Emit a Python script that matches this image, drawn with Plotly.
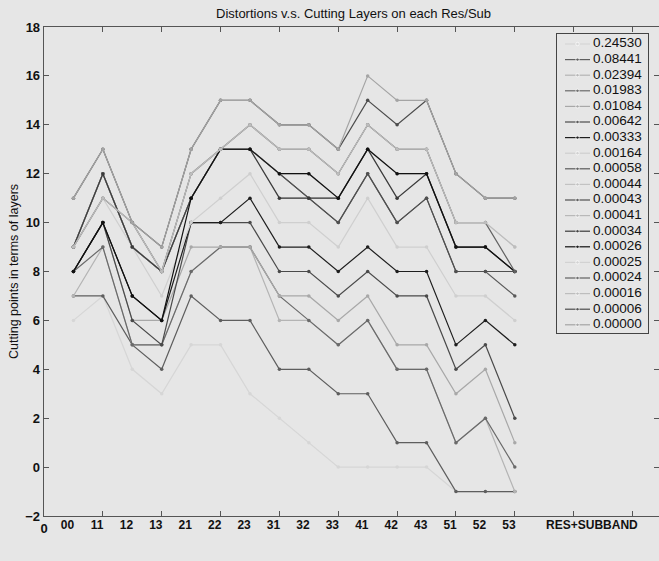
import plotly.graph_objects as go

# ---------------- data ----------------
SUBBANDS = ['00', '11', '12', '13', '21', '22', '23', '31', '32', '33',
            '41', '42', '43', '51', '52', '53']
LEVELS = ['0.24530', '0.08441', '0.02394', '0.01983', '0.01084', '0.00642',
          '0.00333', '0.00164', '0.00058', '0.00044', '0.00043', '0.00041',
          '0.00034', '0.00026', '0.00025', '0.00024', '0.00016', '0.00006',
          '0.00000']
Y_TICKS = [-2, 0, 2, 4, 6, 8, 10, 12, 14, 16, 18]
X_AXIS_LABEL = 'RES+SUBBAND'

d_24530 = [6, 7, 4, 3, 5, 5, 3, 2, 1, 0, 0, 0, 0, -1, -1, -1]
d_08441 = [7, 7, 5, 4, 7, 6, 6, 4, 4, 3, 3, 1, 1, -1, -1, -1]
d_02394 = [7, 9, 5, 5, 8, 9, 9, 6, 6, 5, 6, 4, 4, 1, 2, -1]
d_01983 = [8, 9, 5, 5, 8, 9, 9, 7, 6, 5, 6, 4, 4, 1, 2, 0]
d_01084 = [8, 10, 6, 6, 9, 9, 9, 7, 7, 6, 7, 5, 5, 3, 4, 1]
d_00642 = [8, 10, 6, 5, 10, 10, 10, 8, 8, 7, 8, 7, 7, 4, 5, 2]
d_00333 = [8, 10, 7, 6, 10, 10, 11, 9, 9, 8, 9, 8, 8, 5, 6, 5]
d_00164 = [9, 11, 9, 7, 10, 11, 12, 10, 10, 9, 11, 9, 9, 7, 7, 6]
d_00058 = [9, 12, 9, 8, 11, 13, 13, 12, 11, 10, 12, 10, 11, 8, 8, 7]
d_00044 = [9, 12, 9, 8, 11, 13, 13, 11, 11, 11, 13, 11, 12, 9, 9, 8]
d_00043 = [9, 12, 9, 8, 11, 13, 13, 12, 11, 10, 12, 10, 11, 8, 8, 8]
d_00041 = [9, 12, 9, 8, 11, 13, 13, 12, 12, 11, 13, 12, 12, 9, 9, 8]
d_00034 = [9, 12, 9, 8, 11, 13, 13, 11, 11, 11, 13, 11, 12, 9, 9, 8]
d_00026 = [8, 10, 7, 6, 11, 13, 13, 12, 12, 11, 13, 12, 12, 9, 9, 8]
d_00025 = [9, 11, 10, 8, 12, 13, 14, 13, 13, 12, 14, 13, 13, 10, 10, 9]
d_00024 = [9, 11, 10, 8, 12, 13, 14, 13, 13, 12, 14, 13, 13, 10, 10, 8]
d_00016 = [9, 11, 10, 8, 12, 13, 14, 13, 13, 12, 14, 13, 13, 10, 10, 9]
d_00006 = [11, 13, 10, 9, 13, 15, 15, 14, 14, 13, 15, 14, 15, 12, 11, 11]
d_00000 = [11, 13, 10, 9, 13, 15, 15, 14, 14, 13, 16, 15, 15, 12, 11, 11]

SERIES = [d_24530, d_08441, d_02394, d_01983, d_01084, d_00642, d_00333,
          d_00164, d_00058, d_00044, d_00043, d_00041, d_00034, d_00026,
          d_00025, d_00024, d_00016, d_00006, d_00000]

# ---------------- style ----------------
COLORS = ['#d6d6d6', '#5e5e5e', '#b4b4b4', '#6a6a6a', '#a8a8a8', '#4a4a4a',
          '#1e1e1e', '#cfcfcf', '#5a5a5a', '#c2c2c2', '#505050', '#b8b8b8',
          '#3a3a3a', '#111111', '#d2d2d2', '#626262', '#bdbdbd', '#4c4c4c',
          '#a4a4a4']
BG = '#e6e6e6'
AX = '#555555'
FONT = 'Liberation Sans, Arial, sans-serif'

x_pos = list(range(1, len(SUBBANDS) + 1))

fig = go.Figure()
for name, vals, col in zip(LEVELS, SERIES, COLORS):
    fig.add_trace(go.Scatter(
        x=x_pos, y=vals, name=name, mode='lines+markers',
        line=dict(color=col, width=1.2),
        marker=dict(color=col, size=3.5),
        hoverinfo='skip'))

# invisible trace so the category-label axis renders
fig.add_trace(go.Scatter(x=[0], y=[-10], xaxis='x2', mode='markers',
                         marker=dict(opacity=0), hoverinfo='skip'))

# legend box drawn on its own small axes
n = len(LEVELS)
for i, (name, col) in enumerate(zip(LEVELS, COLORS)):
    yy = 10 + 15.6 * i
    fig.add_trace(go.Scatter(
        x=[8, 20.5, 33], y=[yy, yy, yy], mode='lines+markers',
        line=dict(color=col, width=1.2),
        marker=dict(color=col, size=[0, 3.5, 0]),
        xaxis='x3', yaxis='y3', hoverinfo='skip'))
fig.add_trace(go.Scatter(
    x=[36] * n, y=[10 + 15.6 * i for i in range(n)], text=LEVELS,
    mode='text', textposition='middle right',
    textfont=dict(family=FONT, size=13.5, color='#111'),
    xaxis='x3', yaxis='y3', hoverinfo='skip'))

fig.update_layout(
    width=659, height=561,
    margin=dict(l=44, r=0, t=27, b=45),
    paper_bgcolor=BG, plot_bgcolor=BG,
    showlegend=False,
    font=dict(family=FONT, size=12, color='#111'),
    xaxis=dict(range=[0, 20.9], tickvals=list(range(0, 21, 2)),
               ticktext=['0'] + [''] * 10,
               ticks='inside', ticklen=5, tickcolor=AX, tickwidth=1,
               showline=True, linecolor=AX, linewidth=1.3, mirror='ticks',
               showgrid=False, zeroline=False,
               tickfont=dict(family=FONT, size=13, color='#111', weight='bold')),
    xaxis2=dict(overlaying='x', anchor='y', side='bottom', range=[0, 20.9],
                tickvals=[p - 0.2 for p in x_pos] + [18.62],
                ticktext=SUBBANDS + [X_AXIS_LABEL],
                ticks='', showline=False, showgrid=False, zeroline=False,
                tickfont=dict(family=FONT, size=12, color='#111', weight='bold')),
    yaxis=dict(range=[-2, 18], tickvals=Y_TICKS,
               ticks='inside', ticklen=5, tickcolor=AX, tickwidth=1,
               showline=True, linecolor=AX, linewidth=1.3, mirror='ticks',
               showgrid=False, zeroline=False,
               tickfont=dict(family=FONT, size=13, color='#111', weight='bold')),
    xaxis3=dict(domain=[(557 - 44) / 615, (648 - 44) / 615], anchor='y3',
                range=[0, 91], showline=True, mirror=True, linecolor='#444',
                linewidth=1, ticks='', showticklabels=False, showgrid=False,
                zeroline=False, fixedrange=True),
    yaxis3=dict(domain=[1 - (333 - 27) / 489, 1 - (34 - 27) / 489], anchor='x3',
                range=[299, 0], showline=True, mirror=True, linecolor='#444',
                linewidth=1, ticks='', showticklabels=False, showgrid=False,
                zeroline=False, fixedrange=True),
    annotations=[
        dict(text='Distortions v.s. Cutting Layers on each Res/Sub',
             xref='paper', yref='paper', x=(353 - 44) / 615,
             y=1 + (27 - 13) / 489, xanchor='center', yanchor='middle',
             showarrow=False, font=dict(family=FONT, size=13, color='#111')),
        dict(text='Cutting points in terms of layers', textangle=-90,
             xref='paper', yref='paper', x=(14 - 44) / 615,
             y=1 - (272 - 27) / 489, xanchor='center', yanchor='middle',
             showarrow=False, font=dict(family=FONT, size=12.5, color='#111')),
    ],
)

fig.write_html('out.html',
               config={'displayModeBar': False, 'staticPlot': True},
               post_script="document.body.style.margin='0';"
                           "document.body.style.background='#e6e6e6';")
